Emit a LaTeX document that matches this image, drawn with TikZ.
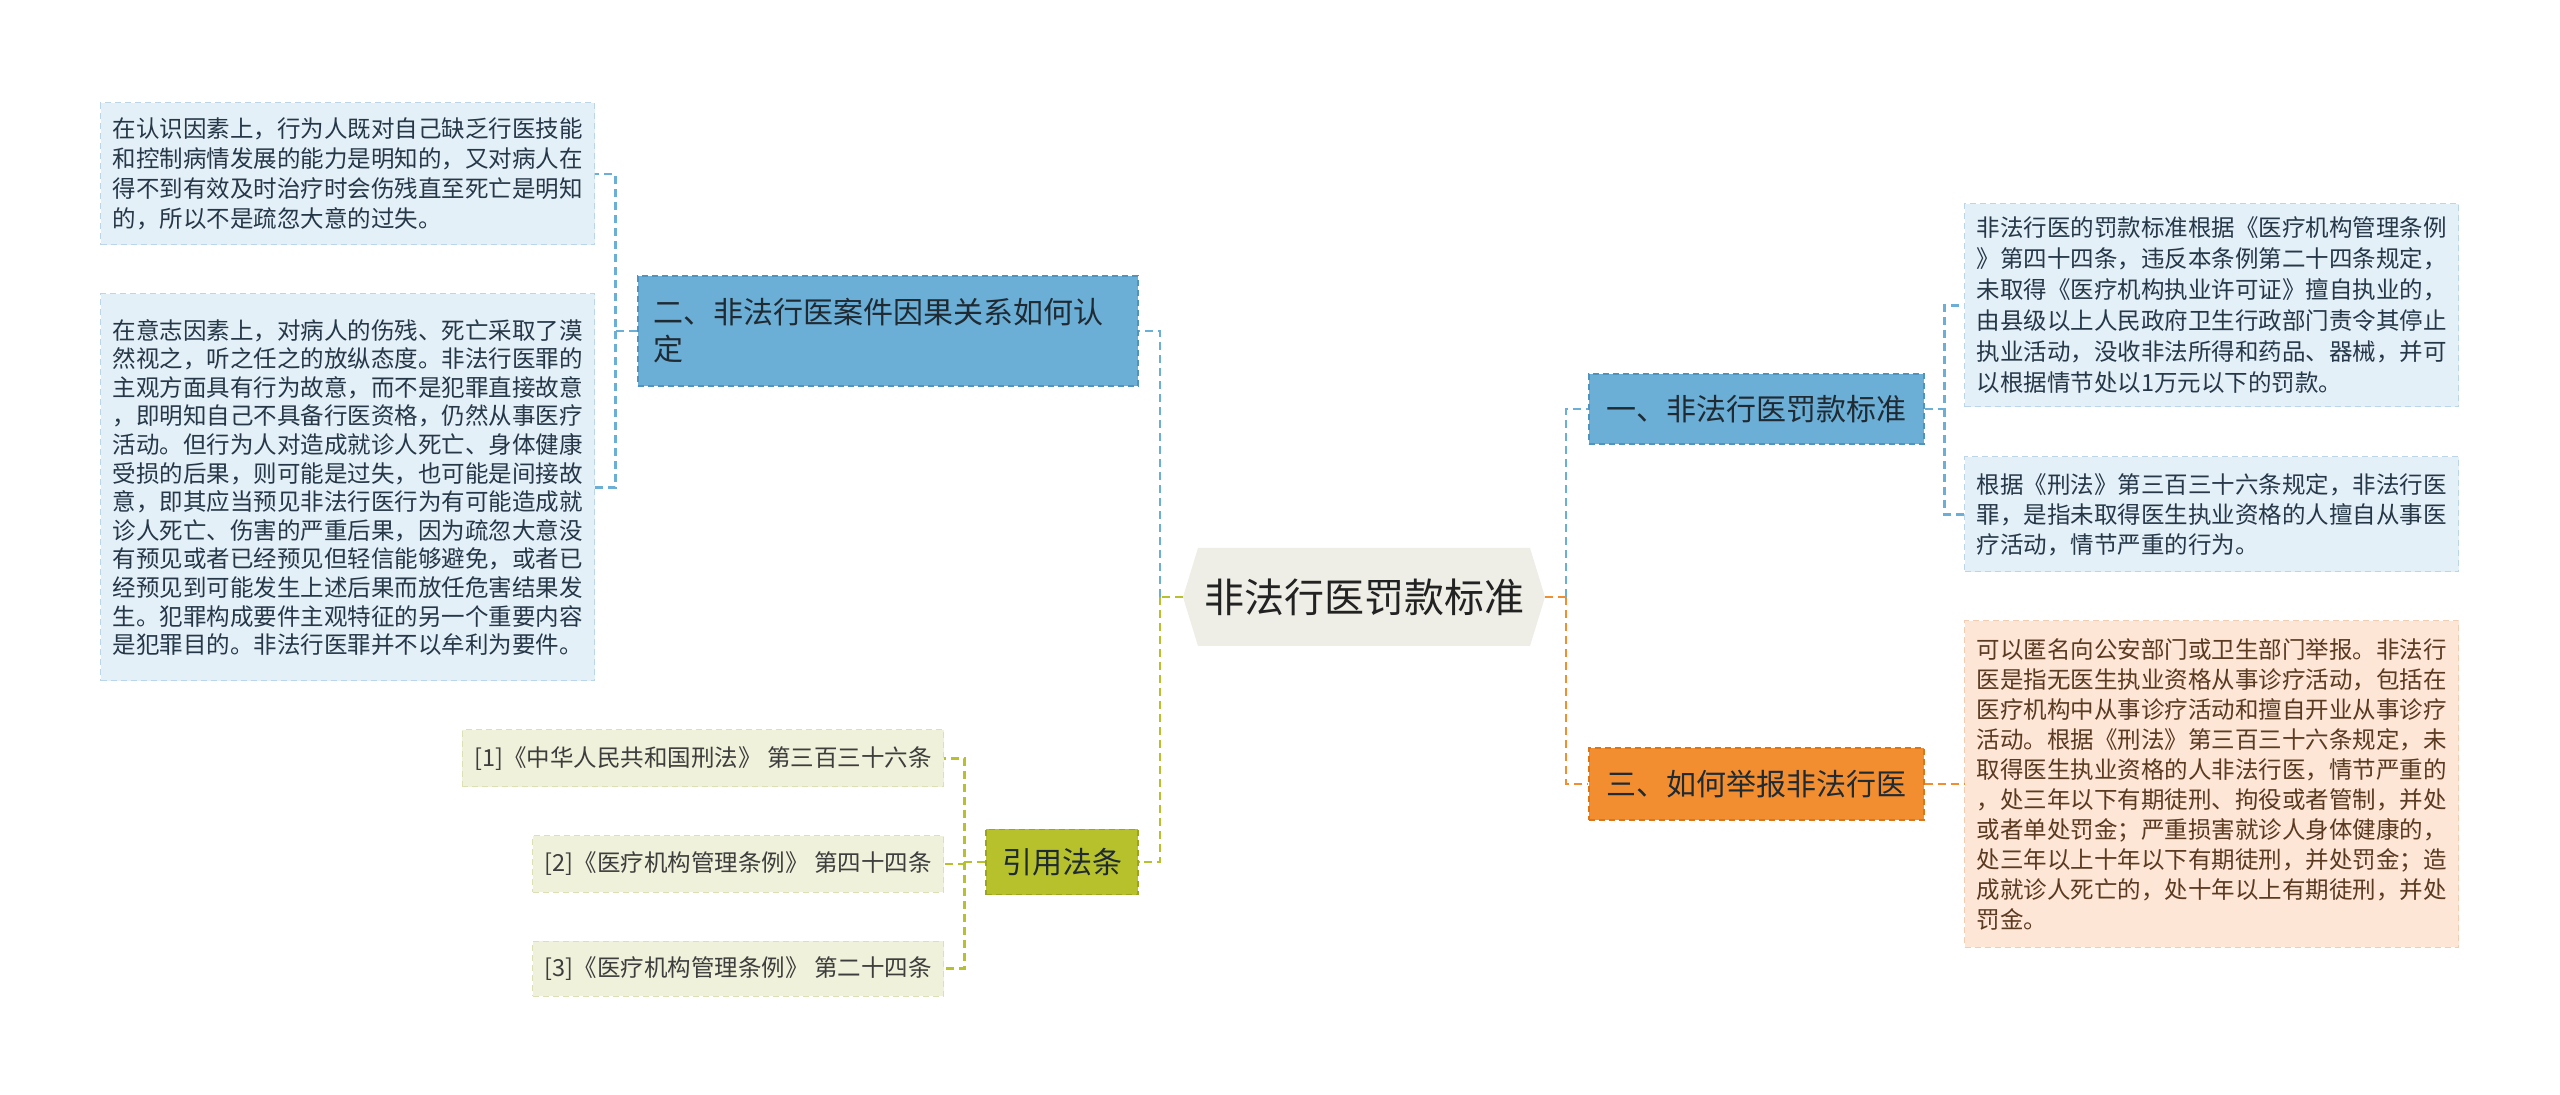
\documentclass[tikz,border=0pt]{standalone}
\usepackage{fontspec}
\setmainfont{Noto Sans CJK SC}

\definecolor{rootfill}{HTML}{EEEEE6}
\definecolor{roottext}{HTML}{222222}
\definecolor{bluetopic}{HTML}{6BAED6}
\definecolor{bluetopicdark}{HTML}{4F93BE}
\definecolor{bluefill}{HTML}{E4F0F8}
\definecolor{blueedge}{HTML}{BBD6E8}
\definecolor{bluetext}{HTML}{263848}
\definecolor{orangetopic}{HTML}{F28E2F}
\definecolor{orangetopicdark}{HTML}{DC7618}
\definecolor{orangefill}{HTML}{FDE6D6}
\definecolor{orangeedge}{HTML}{F3CDB2}
\definecolor{orangetext}{HTML}{5A3A20}
\definecolor{greentopic}{HTML}{B7C12B}
\definecolor{greentopicdark}{HTML}{9CA61C}
\definecolor{greenfill}{HTML}{F0F1DA}
\definecolor{greenedge}{HTML}{DDE0B4}
\definecolor{greentext}{HTML}{3D3D3D}
\definecolor{topictext}{HTML}{1F2A33}

\tikzset{
  link/.style={dash pattern=on 4pt off 2.5pt, line width=1.2pt},
  topicbox/.style={fill=#1, draw=#1dark, dash pattern=on 3pt off 2pt, line width=0.6pt,
    font=\fontsize{15}{18.5}\selectfont, text=topictext, inner sep=0pt},
  leafbox/.style={fill=#1fill, draw=#1edge, dash pattern=on 3pt off 2pt, line width=0.5pt,
    text=#1text, text width=235pt, inner xsep=6pt, inner ysep=0pt, align=left,
    font=\fontsize{11.75}{15}\selectfont},
  citebox/.style={fill=greenfill, draw=greenedge, dash pattern=on 3pt off 2pt, line width=0.5pt,
    text=greentext, inner xsep=6pt, inner ysep=0pt, anchor=east,
    font=\fontsize{11.75}{15}\selectfont}
}

\begin{document}
\begin{tikzpicture}[x=0.5pt,y=-0.5pt]
\useasboundingbox[fill=white] (0,0) rectangle (2560,1095);

% centre
\fill[rootfill] (1183,597) -- (1198,548) -- (1530,548) -- (1545,597) -- (1530,646) -- (1198,646) -- cycle;
\node[font=\fontsize{20}{24}\selectfont, text=roottext, minimum width=181pt, minimum height=49pt, inner sep=0pt] (root) at (1364,597) {非法行医罚款标准};

% topics
\node[topicbox=bluetopic, text width=235pt, inner xsep=7.5pt, minimum height=55pt, align=left] (why) at (888,331) {二、非法行医案件因果关系如何认\\定};
\node[topicbox=bluetopic, minimum width=167.5pt, minimum height=35pt] (fine) at (1756.5,409) {一、非法行医罚款标准};
\node[topicbox=orangetopic, minimum width=167.5pt, minimum height=36pt] (report) at (1756.5,784) {三、如何举报非法行医};
\node[topicbox=greentopic, minimum width=76pt, minimum height=32.5pt] (cite) at (1062,862) {引用法条};

% left leaves
\node[leafbox=blue, minimum height=71pt] (know) at (347.5,174) {在认识因素上，行为人既对自己缺乏行医技能\\和控制病情发展的能力是明知的，又对病人在\\得不到有效及时治疗时会伤残直至死亡是明知\\的，所以不是疏忽大意的过失。};
\node[leafbox=blue, minimum height=193.5pt, font=\fontsize{11.75}{14.3}\selectfont] (will) at (347.5,487.5) {在意志因素上，对病人的伤残、死亡采取了漠\\然视之，听之任之的放纵态度。非法行医罪的\\主观方面具有行为故意，而不是犯罪直接故意\\，即明知自己不具备行医资格，仍然从事医疗\\活动。但行为人对造成就诊人死亡、身体健康\\受损的后果，则可能是过失，也可能是间接故\\意，即其应当预见非法行医行为有可能造成就\\诊人死亡、伤害的严重后果，因为疏忽大意没\\有预见或者已经预见但轻信能够避免，或者已\\经预见到可能发生上述后果而放任危害结果发\\生。犯罪构成要件主观特征的另一个重要内容\\是犯罪目的。非法行医罪并不以牟利为要件。};

% right leaves
\node[leafbox=blue, minimum height=101.5pt, font=\fontsize{11.75}{15.5}\selectfont] (rule) at (2211.5,305.5) {非法行医的罚款标准根据《医疗机构管理条例\\》第四十四条，违反本条例第二十四条规定，\\未取得《医疗机构执业许可证》擅自执业的，\\由县级以上人民政府卫生行政部门责令其停止\\执业活动，没收非法所得和药品、器械，并可\\以根据情节处以1万元以下的罚款。};
\node[leafbox=blue, minimum height=57.5pt] (law) at (2211.5,514.5) {根据《刑法》第三百三十六条规定，非法行医\\罪，是指未取得医生执业资格的人擅自从事医\\疗活动，情节严重的行为。};
\node[leafbox=orange, minimum height=163pt] (how) at (2211.5,784) {可以匿名向公安部门或卫生部门举报。非法行\\医是指无医生执业资格从事诊疗活动，包括在\\医疗机构中从事诊疗活动和擅自开业从事诊疗\\活动。根据《刑法》第三百三十六条规定，未\\取得医生执业资格的人非法行医，情节严重的\\，处三年以下有期徒刑、拘役或者管制，并处\\或者单处罚金；严重损害就诊人身体健康的，\\处三年以上十年以下有期徒刑，并处罚金；造\\成就诊人死亡的，处十年以上有期徒刑，并处\\罚金。};

% cited articles
\node[citebox, minimum height=28.5pt] (ref1) at (944,758.5) {[1]《中华人民共和国刑法》 第三百三十六条};
\node[citebox, minimum height=28pt] (ref2) at (944,864) {[2]《医疗机构管理条例》 第四十四条};
\node[citebox, minimum height=27.5pt] (ref3) at (944,968.5) {[3]《医疗机构管理条例》 第二十四条};

% connectors
\coordinate (jl) at (1160,597);
\coordinate (jr) at (1566,597);
\draw[link, draw=greentopic] (root.west) -- (jl);
\draw[link, draw=bluetopic] (jl) |- (why.east);
\draw[link, draw=greentopic] (jl) |- (cite.east);
\draw[link, draw=orangetopic] (root.east) -- (jr);
\draw[link, draw=bluetopic] (jr) |- (fine.west);
\draw[link, draw=orangetopic] (jr) |- (report.west);
\draw[link, draw=bluetopic] (fine.east) -- ++(20,0) coordinate (kf) |- (rule.west);
\draw[link, draw=bluetopic] (kf) |- (law.west);
\draw[link, draw=orangetopic] (report.east) -- (how.west);
\draw[link, draw=bluetopic] (why.west) -- ++(-22,0) coordinate (kw) |- (know.east);
\draw[link, draw=bluetopic] (kw) |- (will.east);
\draw[link, draw=greentopic] (cite.west) -- ++(-21,0) coordinate (kc) |- (ref1.east);
\draw[link, draw=greentopic] (kc) |- (ref2.east);
\draw[link, draw=greentopic] (kc) |- (ref3.east);
\end{tikzpicture}
\end{document}
